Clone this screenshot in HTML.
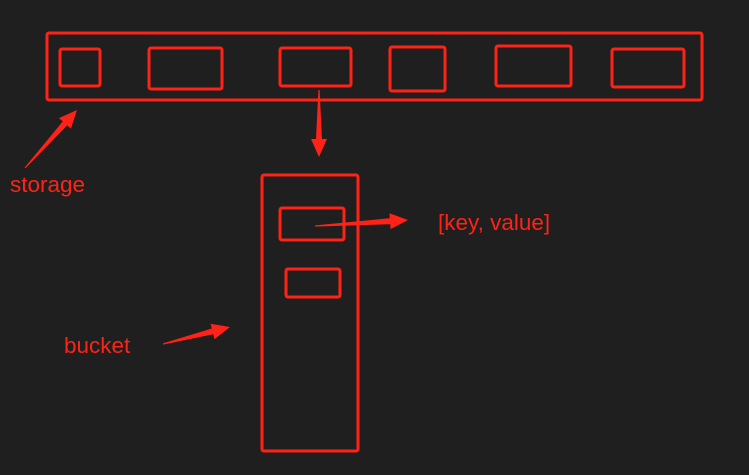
<!DOCTYPE html>
<html><head><meta charset="utf-8"><style>
html,body{margin:0;padding:0;background:#1f1f1f;}
svg{display:block}
text{font-family:"Liberation Sans","DejaVu Sans",sans-serif;fill:#ff2216;font-size:22.5px}
</style></head><body>
<svg width="749" height="475" viewBox="0 0 749 475">
<rect width="749" height="475" fill="#1f1f1f"/>
<g fill="none" stroke="#ff2216" stroke-width="3">
<rect x="47" y="33" width="655" height="67" rx="2"/>
<rect x="60" y="49" width="40" height="37" rx="2"/>
<rect x="149" y="48" width="73" height="41" rx="2"/>
<rect x="280" y="48" width="71" height="38" rx="2"/>
<rect x="390" y="47" width="55" height="44" rx="2"/>
<rect x="496" y="46" width="75" height="40" rx="2"/>
<rect x="612" y="49" width="72" height="38" rx="2"/>
<rect x="262" y="175" width="96" height="276" rx="2"/>
<rect x="280" y="208" width="64" height="32" rx="2"/>
<rect x="286" y="269" width="54" height="28" rx="2"/>
</g>
<g id="arrows" fill="#ff2216"></g>
<text x="10" y="192">storage</text>
<text x="438" y="230">[key, value]</text>
<text x="64" y="353">bucket</text>
</svg>
<script>
const arrowsData=[["storage-arrow",25,168,77,110],["slot-to-bucket-arrow",319,90,319,157],["entry-to-kv-arrow",315,226,408,220],["bucket-arrow",163,344,230,327]];
const g=document.getElementById('arrows');
arrowsData.forEach(([n,x1,y1,x2,y2])=>{
 const dx=x2-x1,dy=y2-y1,L=Math.hypot(dx,dy),ux=dx/L,uy=dy/L,px=-uy,py=ux;
 const hl=18,hw=8,sw=3,tw=0.6;
 const bx=x2-ux*hl,by=y2-uy*hl;
 const pts=[[x1+px*tw,y1+py*tw],[bx+px*sw,by+py*sw],[bx+px*hw,by+py*hw],[x2,y2],[bx-px*hw,by-py*hw],[bx-px*sw,by-py*sw],[x1-px*tw,y1-py*tw]];
 const p=document.createElementNS('http://www.w3.org/2000/svg','polygon');
 p.setAttribute('points',pts.map(q=>q[0].toFixed(1)+','+q[1].toFixed(1)).join(' '));
 
 
 g.appendChild(p);
});
</script>
</body></html>
